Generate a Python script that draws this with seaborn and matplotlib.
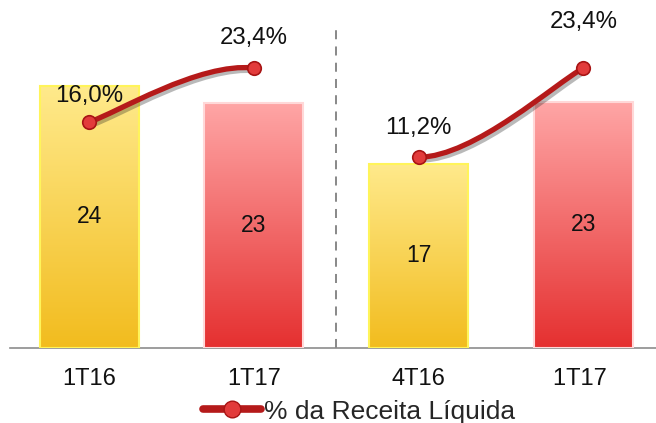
import numpy as np
import pandas as pd
import matplotlib
matplotlib.use("Agg")
import matplotlib.pyplot as plt
import matplotlib.patheffects as pe
from matplotlib.path import Path
from matplotlib.patches import PathPatch
from matplotlib.lines import Line2D
from matplotlib.colors import LinearSegmentedColormap
import seaborn as sns

# data
periods = ['1T16', '1T17', '4T16', '1T17 ']
bar_values = [24.2, 22.6, 17.0, 22.7]
bar_labels = ['24', '23', '17', '23']
pct_values = [16.0, 23.4, 11.2, 23.4]
pct_labels = ['16,0%', '23,4%', '11,2%', '23,4%']

df = pd.DataFrame({'periodo': periods, 'valor': bar_values})

sns.set_theme(style='white')
plt.rcParams['font.family'] = ['Liberation Sans', 'DejaVu Sans']

fig = plt.figure(figsize=(6.56, 4.23), dpi=100)
ax = fig.add_axes([10 / 656, 75 / 423, 646 / 656, 348 / 423])

yellow = ['#FFEA8C', '#F2BC1E']
red = ['#FFA6A6', '#E53030']
palette = {'1T16': yellow[1], '1T17': red[1], '4T16': yellow[1], '1T17 ': red[1]}
sns.barplot(data=df, x='periodo', y='valor', hue='periodo', palette=palette,
            width=0.6, legend=False, ax=ax, saturation=1)

bars = sorted([p for p in ax.patches if p.get_height() > 0], key=lambda p: p.get_x())

# gradient fill on each bar
grads = [yellow, red, yellow, red]
edges = ['#FFF45A', '#FFD8D8', '#FFF45A', '#FFD8D8']
for p, g, ec, lab in zip(bars, grads, edges, bar_labels):
    x0, y0 = p.get_x(), p.get_y()
    w, h = p.get_width(), p.get_height()
    cmap = LinearSegmentedColormap.from_list('g', [g[1], g[0]])
    grad = np.linspace(0, 1, 256).reshape(-1, 1)
    im = ax.imshow(grad, cmap=cmap, aspect='auto', origin='lower',
                   extent=(x0, x0 + w, y0, y0 + h), zorder=2)
    im.set_clip_path(p)
    p.set_edgecolor(ec)
    p.set_linewidth(1.5)
    p.set_zorder(3)
    p.set_facecolor('none')
    ax.text(x0 + w / 2, y0 + h / 2, lab, ha='center', va='center',
            fontsize=16.5, color='#111111', zorder=6)

ax.set_xlim(-0.48, 3.44)
ax.set_ylim(0, 32.1)
ax.set_xlabel('')
ax.set_ylabel('')
ax.set_yticks([])
ax.tick_params(axis='x', length=0, pad=14.5, labelsize=17, colors='#111111')
for s in ['top', 'left', 'right']:
    ax.spines[s].set_visible(False)
ax.spines['bottom'].set_color('#8C8C8C')
ax.spines['bottom'].set_linewidth(1.2)

ax.axvline(1.5, ymin=0, ymax=0.915, color='#7F7F7F', lw=1.3,
           linestyle=(0, (5, 4)), zorder=1)

# percent line on secondary axis
ax2 = ax.twinx()
ax2.set_ylim(-14.9, 32.7)
ax2.set_yticks([])
for s in ax2.spines.values():
    s.set_visible(False)

line_color = '#B51A1A'
xs = np.arange(len(pct_values), dtype=float)
pts = np.column_stack([xs, pct_values])
ext = np.vstack([pts[0], pts, pts[-1]])
for i in [0, 2]:
    p0, p1, p2, p3 = ext[i], ext[i + 1], ext[i + 2], ext[i + 3]
    c1 = p1 + (p2 - p0) / 6
    c2 = p2 - (p3 - p1) / 6
    path = Path([p1, c1, c2, p2], [Path.MOVETO, Path.CURVE4, Path.CURVE4, Path.CURVE4])
    ax2.add_patch(PathPatch(path, fill=False, edgecolor=line_color, lw=3.8,
                            capstyle='round', zorder=4,
                            path_effects=[pe.SimpleLineShadow(offset=(2, -2), alpha=0.3),
                                          pe.Normal()]))

sns.scatterplot(x=xs, y=pct_values, ax=ax2, s=95, color='#E23B3B',
                edgecolor='#A81414', linewidth=1.2, zorder=5, legend=False)

label_offsets = [19, 21.5, 21, 33]
for x, v, lab, off in zip(xs, pct_values, pct_labels, label_offsets):
    ax2.annotate(lab, (x, v), xytext=(0, off), textcoords='offset points',
                 ha='center', va='center', fontsize=17.3, color='#111111')

handle = Line2D([], [], color=line_color, lw=5.5, marker='o', markersize=12,
                markerfacecolor='#E23B3B', markeredgecolor='#A81414')
fig.legend([handle], ['% da Receita Líquida'], loc='center',
           bbox_to_anchor=(0.547, 0.027), frameon=False, fontsize=19,
           handlelength=2.2, handletextpad=0.1)

fig.savefig('out.png', dpi=100)
